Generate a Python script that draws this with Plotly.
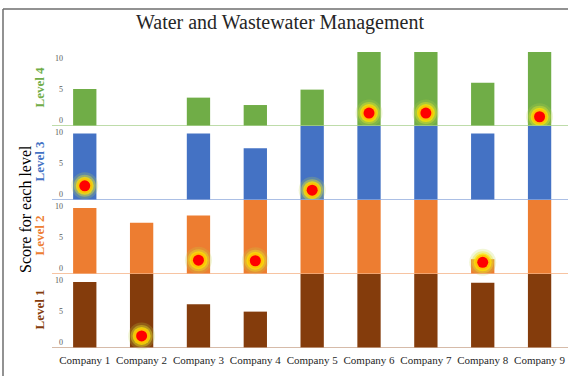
import plotly.graph_objects as go
from plotly.subplots import make_subplots

# ---- data ---------------------------------------------------------------
companies = [f"Company {i}" for i in range(1, 10)]
levels = ["Level 4", "Level 3", "Level 2", "Level 1"]          # top -> bottom

level4_scores = [5, None, 3.6, 2.4, 4.9, 11, 11, 6, 11]
level3_scores = [9.8, None, 9.8, 7.4, 11, 11, 11, 9.8, 11]
level2_scores = [9.7, 7.3, 8.5, 11, 11, 11, 11, 1.4, 11]
level1_scores = [9.7, 11, 6.1, 4.9, 11, 11, 11, 9.6, 11]

# highlighted companies within each level (marker height in score units)
level4_flags = [None, None, None, None, None, 1.1, 1.1, None, 0.5]
level3_flags = [1.3, None, None, None, 0.6, None, None, None, None]
level2_flags = [None, None, 1.25, 1.15, None, None, None, 0.9, None]
level1_flags = [None, 0.95, None, None, None, None, None, None, None]

y_ticks = [0, 5, 10]
axis_floor, axis_ceiling = -1, 11

# ---- styling ------------------------------------------------------------
SERIF = "Liberation Serif, Times New Roman, serif"
bar_colors = ["#70AD47", "#4472C4", "#ED7D31", "#843C0C"]
base_colors = ["#A9D18E", "#8FAADC", "#F4B183", "#C9A58C"]

scores = [level4_scores, level3_scores, level2_scores, level1_scores]
flags = [level4_flags, level3_flags, level2_flags, level1_flags]

W, H = 568, 376
L, R, T, B = 66, 0, 52, 28
plot_w, plot_h = W - L - R, H - T - B


def px_x(px):
    return (px - L) / plot_w


def px_y(py):
    return (H - B - py) / plot_h


fig = make_subplots(rows=4, cols=1, shared_xaxes=True, vertical_spacing=0)

# soft glow rings under each red marker
glow_layers = [
    (27, "rgba(190,215,70,0.22)"),
    (22, "rgba(235,230,40,0.40)"),
    (18, "rgba(255,228,0,0.70)"),
    (15, "rgba(255,190,0,0.85)"),
    (11, "#FF0000"),
]

for r, (name, vals, flag, color) in enumerate(zip(levels, scores, flags, bar_colors), start=1):
    heights = [None if v is None else v - axis_floor for v in vals]
    fig.add_trace(
        go.Bar(x=companies, y=heights, base=axis_floor, name=name,
               marker=dict(color=color, line=dict(width=0)), width=0.41,
               showlegend=False),
        row=r, col=1,
    )
    fx = [c for c, f in zip(companies, flag) if f is not None]
    fy = [f for f in flag if f is not None]
    for size, col in glow_layers:
        fig.add_trace(
            go.Scatter(x=fx, y=fy, mode="markers", showlegend=False, hoverinfo="skip",
                       marker=dict(size=size, color=col, line=dict(width=0)),
                       cliponaxis=False),
            row=r, col=1,
        )

    yref = "y" if r == 1 else f"y{r}"
    xdom = "x domain" if r == 1 else f"x{r} domain"
    # coloured baseline of each band
    fig.add_shape(type="line", xref=xdom, yref=yref,
                  x0=(52 - L) / plot_w, x1=1, y0=axis_floor, y1=axis_floor,
                  line=dict(color=base_colors[r - 1], width=1.5), layer="above")

    fig.update_yaxes(range=[axis_floor, axis_ceiling], tickvals=y_ticks,
                     showgrid=False, zeroline=False, showline=False, ticks="",
                     tickfont=dict(family=SERIF, size=8, color="#595959"),
                     ticklabelstandoff=2, row=r, col=1)
    fig.update_xaxes(range=[-0.33, 8.5], showgrid=False, zeroline=False,
                     showline=False, ticks="", row=r, col=1)

    fig.add_annotation(xref="paper", yref="paper", x=px_x(40),
                       y=1 - (r - 0.5) / 4 + 0.005, text=f"<b>{name}</b>",
                       textangle=-90, showarrow=False,
                       xanchor="center", yanchor="middle",
                       font=dict(family=SERIF, size=13, color=color))

fig.update_xaxes(showticklabels=True, tickfont=dict(family=SERIF, size=11, color="#262626"),
                 ticklabelstandoff=4, row=4, col=1)

fig.add_annotation(xref="paper", yref="paper", x=px_x(280), y=px_y(22),
                   text="Water and Wastewater Management", showarrow=False,
                   xanchor="center", yanchor="middle",
                   font=dict(family=SERIF, size=20, color="#262626"))
fig.add_annotation(xref="paper", yref="paper", x=px_x(25), y=px_y(209),
                   text="Score for each level", textangle=-90, showarrow=False,
                   xanchor="center", yanchor="middle",
                   font=dict(family=SERIF, size=16, color="#000000"))

# outer frame (top and left edges)
frame = dict(color="#6E6E6E", width=1.5)
fig.add_shape(type="line", xref="paper", yref="paper",
              x0=px_x(3), x1=px_x(W + 2), y0=px_y(9), y1=px_y(9), line=frame)
fig.add_shape(type="line", xref="paper", yref="paper",
              x0=px_x(3), x1=px_x(3), y0=px_y(9), y1=px_y(H + 2), line=frame)

fig.update_layout(
    width=W, height=H, margin=dict(l=L, r=R, t=T, b=B),
    paper_bgcolor="white", plot_bgcolor="white",
    barmode="overlay", showlegend=False,
)

fig.write_html("out.html")
